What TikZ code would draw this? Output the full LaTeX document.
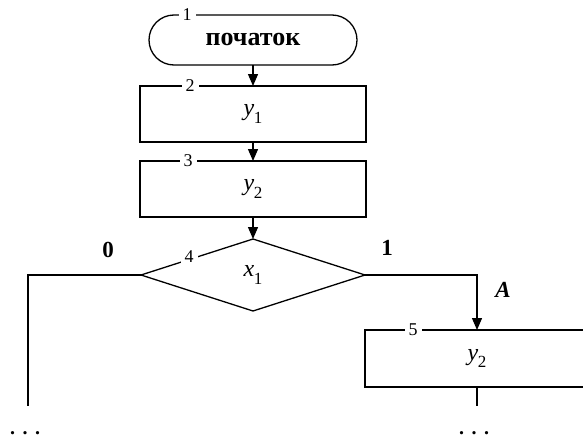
\documentclass[tikz,border=0pt]{standalone}
\usepackage{fontspec}
\setmainfont{Liberation Serif}
\usetikzlibrary{shapes.geometric,arrows.meta}
\newcommand{\vsub}[2]{\textit{#1}\kern-0.5pt\raisebox{-0.3em}{\fontsize{17}{17}\selectfont #2}}
\newcommand{\mydots}{.\hspace{7.5pt}.\hspace{7.5pt}.}
\begin{document}
\begin{tikzpicture}[x=1pt,y=-1pt, line width=1.3pt, outer sep=0pt,
  blk/.style={draw, rectangle, minimum width=226pt, minimum height=56pt, inner sep=0pt, font=\fontsize{24}{24}\selectfont},
  term/.style={draw, rectangle, rounded corners=25pt, minimum width=208pt, minimum height=50pt, font=\fontsize{26}{26}\selectfont\bfseries},
  dec/.style={draw, diamond, minimum width=224pt, minimum height=72pt, aspect=3.11, inner sep=0pt, font=\fontsize{24}{24}\selectfont},
  num/.style={fill=white, inner xsep=4pt, inner ysep=1.5pt, font=\fontsize{18}{18}\selectfont},
  lbl/.style={font=\fontsize{23}{23}\selectfont\bfseries},
  dots/.style={font=\fontsize{20}{20}\selectfont\bfseries, inner sep=0pt, anchor=base},
  arr/.style={-{Triangle[length=12pt,width=10pt]}}]
\useasboundingbox (0,0) rectangle (583,439);
\node[term] (t) at (253,40) {початок};
\node[blk] (b2) at (253,114) {\vsub{y}{1}};
\node[blk] (b3) at (253,189) {\vsub{y}{2}};
\node[dec] (d) at (253,275) {\vsub{x}{1}};
\node[blk, minimum width=224pt, minimum height=57pt] (b5) at (477,358.5) {\vsub{y}{2}};
\coordinate (lend) at (28,406);
\coordinate (rend) at (477,406);
\draw[arr] (t) -- (b2);
\draw[arr] (b2) -- (b3);
\draw[arr] (b3) -- (d);
\draw (d.west) -| (lend);
\draw[arr] (d.east) -| (b5.north);
\draw (b5.south) -- (rend);
\node[num] (n1) at (187,15) {1};
\node[num] (n2) at (190,86) {2};
\node[num] (n3) at (188,161) {3};
\node[num] (n4) at (189,257) {4};
\node[num] (n5) at (413,330) {5};
\node[lbl] (l0) at (108,250) {0};
\node[lbl] (l1) at (387,248) {1};
\node[lbl, font=\fontsize{23}{23}\selectfont\bfseries\itshape] (la) at (503,290) {A};
\node[dots] (dl) at (25,434) {\mydots};
\node[dots] (dr) at (474,434) {\mydots};
\end{tikzpicture}
\end{document}
